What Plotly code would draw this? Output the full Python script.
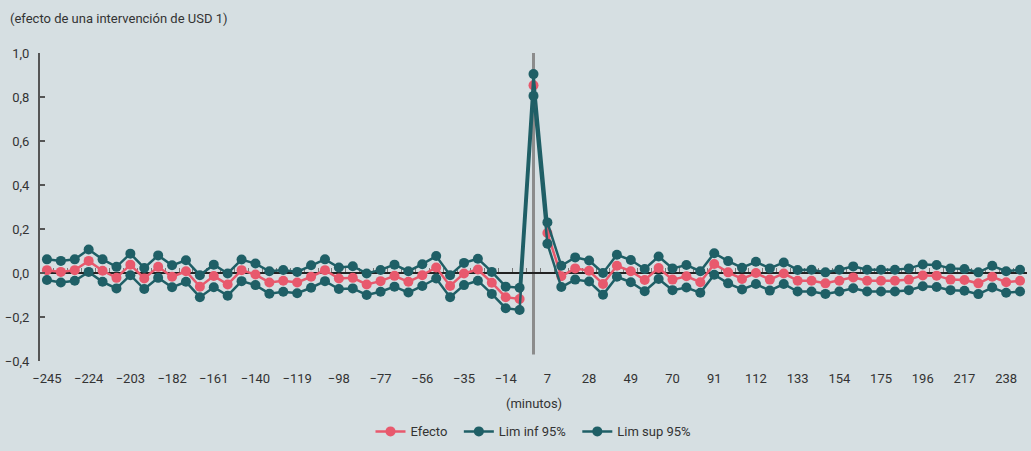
import plotly.graph_objects as go

minutes = list(range(-245, 246, 7))

efecto = [0.013, 0.005, 0.013, 0.055, 0.010, -0.022, 0.038, -0.025, 0.028, -0.017,
          0.008, -0.062, -0.014, -0.052, 0.013, -0.007, -0.043, -0.035, -0.043, -0.017,
          0.013, -0.025, -0.022, -0.052, -0.037, -0.013, -0.040, -0.010, 0.025, -0.059,
          -0.002, 0.016, -0.044, -0.110, -0.118, 0.853, 0.182, -0.015, 0.021, 0.010,
          -0.050, 0.033, 0.008, -0.032, 0.023, -0.030, -0.015, -0.042, 0.041, 0.003,
          -0.027, 0.000, -0.030, -0.002, -0.035, -0.035, -0.047, -0.035, -0.020, -0.035,
          -0.035, -0.035, -0.030, -0.011, -0.012, -0.030, -0.032, -0.047, -0.017, -0.042,
          -0.035]

lim_inf = [-0.032, -0.043, -0.035, 0.005, -0.040, -0.070, -0.010, -0.073, -0.022, -0.065,
           -0.040, -0.110, -0.065, -0.103, -0.037, -0.055, -0.094, -0.085, -0.092, -0.067,
           -0.037, -0.073, -0.070, -0.100, -0.085, -0.062, -0.089, -0.059, -0.025, -0.110,
           -0.055, -0.035, -0.095, -0.160, -0.168, 0.805, 0.133, -0.064, -0.030, -0.039,
           -0.099, -0.017, -0.042, -0.083, -0.027, -0.078, -0.066, -0.090, -0.008, -0.047,
           -0.075, -0.050, -0.080, -0.050, -0.084, -0.084, -0.095, -0.084, -0.069, -0.084,
           -0.084, -0.084, -0.078, -0.060, -0.064, -0.078, -0.081, -0.096, -0.066, -0.090,
           -0.084]

lim_sup = [0.062, 0.055, 0.062, 0.107, 0.062, 0.028, 0.088, 0.023, 0.080, 0.035,
           0.058, -0.010, 0.038, -0.002, 0.061, 0.043, 0.008, 0.014, 0.005, 0.035,
           0.062, 0.025, 0.031, -0.002, 0.014, 0.038, 0.008, 0.040, 0.077, -0.010,
           0.046, 0.065, 0.005, -0.062, -0.067, 0.904, 0.230, 0.033, 0.071, 0.057,
           0.000, 0.083, 0.059, 0.018, 0.075, 0.021, 0.036, 0.008, 0.090, 0.054,
           0.024, 0.051, 0.021, 0.048, 0.014, 0.015, 0.003, 0.015, 0.030, 0.015,
           0.015, 0.015, 0.021, 0.039, 0.036, 0.021, 0.018, 0.003, 0.033, 0.008,
           0.015]

tick_vals = list(range(-245, 239, 21))
y_ticks = [-0.4, -0.2, 0.0, 0.2, 0.4, 0.6, 0.8, 1.0]

PINK = "#e8596d"
TEAL = "#1f5f66"
BG = "#d6dfe2"
FONT = "Roboto, Liberation Sans, sans-serif"
FS = 13
TXT = "#333333"
XR = [-248.5, 248.5]
YR = [-0.4, 1.0]
PW, PH = 987, 310

fig = go.Figure()
fig.add_trace(go.Scatter(x=minutes, y=efecto, name="Efecto  ", mode="lines+markers",
                         line=dict(color=PINK, width=2.5), marker=dict(color=PINK, size=10)))
fig.add_trace(go.Scatter(x=minutes, y=lim_inf, name="Lim inf 95%  ", mode="lines+markers",
                         line=dict(color=TEAL, width=2.5), marker=dict(color=TEAL, size=10)))
fig.add_trace(go.Scatter(x=minutes, y=lim_sup, name="Lim sup 95%", mode="lines+markers",
                         line=dict(color=TEAL, width=2.5), marker=dict(color=TEAL, size=10)))
# invisible trace to activate xaxis2 (zero-level axis line with category ticks)
fig.add_trace(go.Scatter(x=[XR[0]], y=[0], xaxis="x2", mode="markers",
                         marker=dict(opacity=0), showlegend=False, hoverinfo="skip"))

fig.add_shape(type="line", x0=0, x1=0, y0=-0.37, y1=1.0, xref="x", yref="y",
              line=dict(color="#8c8c8c", width=3), layer="below")

fig.add_annotation(text="(efecto de una intervención de USD 1)", xref="paper", yref="paper",
                   x=-32 / PW, y=1 + 35 / PH, xanchor="left", yanchor="middle", showarrow=False,
                   font=dict(size=FS, color=TXT, family=FONT))
fig.add_annotation(text="(minutos)", xref="x", yref="paper",
                   x=0, y=-43 / PH, xanchor="center", yanchor="middle", showarrow=False,
                   font=dict(size=FS, color=TXT, family=FONT))

fig.update_layout(
    width=1031, height=451,
    margin=dict(l=40, r=4, t=53, b=88),
    paper_bgcolor=BG, plot_bgcolor=BG,
    separators=",.",
    font=dict(family=FONT, size=FS, color=TXT),
    showlegend=True,
    legend=dict(orientation="h", x=0.5, xanchor="center", y=-86 / PH, yanchor="bottom",
                font=dict(size=FS, color=TXT, family=FONT), bgcolor="rgba(0,0,0,0)",
                itemwidth=30, tracegroupgap=0),
    xaxis=dict(range=XR, tickmode="array", tickvals=tick_vals, ticks="", showline=False,
               showgrid=False, zeroline=False, ticklabelstandoff=8, automargin=False,
               tickfont=dict(size=FS, color=TXT, family=FONT)),
    xaxis2=dict(range=XR, overlaying="x", anchor="free", position=0.4 / 1.4, side="bottom",
                tickmode="linear", tick0=-248.5, dtick=7, ticks="inside", ticklen=4,
                tickwidth=1, tickcolor="#777777", showticklabels=False, showline=True,
                linecolor="#222222", linewidth=1.5, showgrid=False, zeroline=False,
                layer="below traces", automargin=False),
    yaxis=dict(range=YR, tickmode="array", tickvals=y_ticks, tickformat=".1f",
               ticks="inside", ticklen=5, tickwidth=1.5, tickcolor="#555555",
               showline=True, linecolor="#555555", linewidth=2, showgrid=False,
               zeroline=False, ticklabelstandoff=6, automargin=False,
               tickfont=dict(size=FS, color=TXT, family=FONT)),
)

fig.write_html("out.html", config={"displayModeBar": False},
               post_script="document.body.style.margin='0';")
